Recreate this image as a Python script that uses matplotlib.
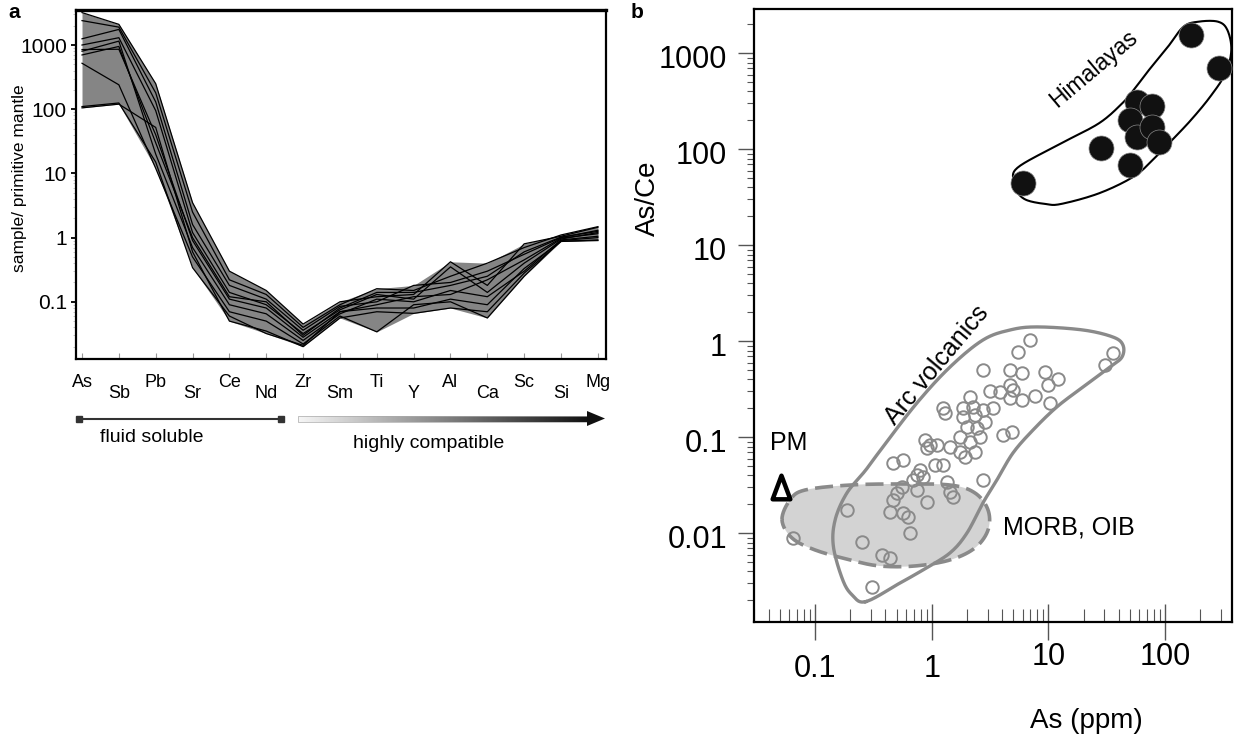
import numpy as np
import matplotlib
matplotlib.use("Agg")
import matplotlib.pyplot as plt
from matplotlib.colors import LinearSegmentedColormap
from matplotlib.path import Path
from matplotlib.patches import Rectangle, Polygon
from matplotlib.ticker import LogLocator, NullFormatter, FixedLocator

plt.rcParams["font.family"] = ["Liberation Sans", "DejaVu Sans"]

# ---- panel a: normalised spider diagram ----
ELEMENTS = ["As", "Sb", "Pb", "Sr", "Ce", "Nd", "Zr", "Sm",
            "Ti", "Y", "Al", "Ca", "Sc", "Si", "Mg"]
S01 = [3200, 2100, 250, 3.5, 0.30, 0.15, 0.045, 0.10, 0.12, 0.13, 0.42, 0.18, 0.80, 1.05, 1.45]
S02 = [2400, 1900, 180, 2.5, 0.22, 0.13, 0.040, 0.09, 0.16, 0.15, 0.25, 0.40, 0.70, 1.10, 1.48]
S03 = [1250, 1750, 130, 1.6, 0.18, 0.11, 0.036, 0.085, 0.10, 0.18, 0.20, 0.30, 0.55, 1.00, 1.30]
S04 = [1000, 1300, 95, 1.2, 0.14, 0.09, 0.032, 0.075, 0.13, 0.11, 0.35, 0.14, 0.40, 0.95, 1.20]
S05 = [850, 860, 40, 0.9, 0.11, 0.08, 0.028, 0.07, 0.09, 0.12, 0.13, 0.22, 0.45, 0.98, 1.15]
S06 = [800, 1150, 20, 0.7, 0.09, 0.065, 0.025, 0.065, 0.11, 0.10, 0.15, 0.12, 0.30, 0.92, 1.05]
S07 = [520, 240, 12, 0.5, 0.07, 0.05, 0.022, 0.06, 0.034, 0.09, 0.10, 0.056, 0.25, 0.90, 1.00]
S08 = [105, 120, 52, 0.6, 0.05, 0.035, 0.020, 0.056, 0.07, 0.066, 0.08, 0.07, 0.28, 0.87, 0.92]
S09 = [110, 125, 15, 0.34, 0.06, 0.032, 0.021, 0.07, 0.08, 0.08, 0.11, 0.09, 0.33, 0.88, 0.90]
S10 = [700, 950, 30, 1.0, 0.12, 0.10, 0.030, 0.08, 0.14, 0.14, 0.18, 0.25, 0.60, 1.02, 1.25]
SAMPLES = [S01, S02, S03, S04, S05, S06, S07, S08, S09, S10]
A_YTICKS = [0.1, 1, 10, 100, 1000]
A_YLABELS = ["0.1", "1", "10", "100", "1000"]

# ---- panel b: As/Ce vs As ----
HIMAL_AS = [6.0, 28, 50, 58, 78, 50, 58, 78, 88, 167, 288]
HIMAL_ASCE = [44, 102, 69, 313, 282, 202, 135, 172, 120, 1550, 698]

ARC_AS = [6.94, 5.51, 2.76, 4.68, 5.89, 9.33, 12.1, 9.96, 3.15, 3.84, 4.68, 4.99,
          4.68, 5.89, 7.66, 10.3, 2.12, 1.86, 2.26, 2.76, 3.37, 1.25, 1.29, 1.86,
          2.34, 2.85, 1.99, 2.42, 2.59, 2.12, 1.74, 4.10, 4.83, 0.873, 0.964, 0.902,
          1.10, 1.43, 1.74, 1.92, 2.34, 0.467, 0.569, 1.06, 1.25, 0.791, 0.741, 0.844,
          0.692, 1.34, 2.76, 0.551, 0.499, 0.467, 0.741, 1.43, 1.53, 0.902, 0.437,
          0.569, 0.628, 0.649, 0.25, 0.371, 0.437, 0.305, 36.0, 30.6, 0.186, 0.065]
ARC_ASCE = [1.03, 0.78, 0.502, 0.502, 0.464, 0.482, 0.402, 0.351, 0.306, 0.298, 0.351, 0.311,
            0.255, 0.245, 0.269, 0.226, 0.265, 0.20, 0.208, 0.192, 0.20, 0.20, 0.178, 0.164,
            0.171, 0.145, 0.129, 0.124, 0.101, 0.09, 0.101, 0.106, 0.114, 0.094, 0.083, 0.0768,
            0.083, 0.0798, 0.0708, 0.0628, 0.0708, 0.0536, 0.058, 0.0514, 0.0514, 0.0456, 0.0405, 0.0389,
            0.0359, 0.0345, 0.0359, 0.0306, 0.0261, 0.0222, 0.0282, 0.0271, 0.024, 0.0213, 0.0168,
            0.0162, 0.0149, 0.010, 0.00817, 0.00594, 0.0055, 0.00278, 0.75, 0.566, 0.0175, 0.0090]

HIMAL_FIELD_AS = [4.97, 5.57, 12.8, 27.2, 42.9, 53.8, 72.8, 106, 144, 194, 284, 342,
                  370, 330, 244, 167, 115, 78.3, 53.8, 27.2, 12.8, 9.46, 6.47, 5.37]
HIMAL_FIELD_ASCE = [47.9, 65.9, 115, 187, 301, 415, 670, 1172, 1892, 2133, 2133, 1750,
                    1081, 619, 353, 202, 125, 77.4, 51.9, 34.8, 26.9, 26.9, 29.6, 36.1]

ARC_FIELD_AS = [0.271, 0.532, 0.839, 1.43, 2.0, 2.74, 3.61, 4.96, 7.37, 11.8, 19.8, 33.7,
                42.7, 43.5, 35.7, 19.8, 7.98, 4.68, 2.74, 1.43, 0.745, 0.380, 0.271, 0.186,
                0.148, 0.143, 0.172, 0.207]
ARC_FIELD_ASCE = [0.00194, 0.00303, 0.00415, 0.00624, 0.01007, 0.0207, 0.0359, 0.0686, 0.119,
                  0.207, 0.334, 0.539, 0.685, 0.914, 1.107, 1.31, 1.41, 1.31, 1.03, 0.539,
                  0.228, 0.0793, 0.0456, 0.0261, 0.0138, 0.00725, 0.00326, 0.00228]

MORB_FIELD_AS = [0.0518, 0.0607, 0.0816, 0.199, 0.532, 1.43, 2.34, 3.03, 3.03, 2.34,
                 1.43, 0.714, 0.358, 0.199, 0.0994, 0.0631]
MORB_FIELD_ASCE = [0.0138, 0.0222, 0.0282, 0.0318, 0.0326, 0.0318, 0.0263, 0.0175, 0.0108,
                   0.00703, 0.00527, 0.00456, 0.00456, 0.00527, 0.0067, 0.00893]

PM_AS, PM_ASCE = 0.0508, 0.0303
B_XTICKS = [0.1, 1, 10, 100]
B_XLABELS = ["0.1", "1", "10", "100"]
B_YTICKS = [0.01, 0.1, 1, 10, 100, 1000]
B_YLABELS = ["0.01", "0.1", "1", "10", "100", "1000"]

W, H = 1234, 735
fig = plt.figure(figsize=(W / 100, H / 100), dpi=100)


def px_axes(left, top, right, bottom):
    return fig.add_axes([left / W, 1 - bottom / H, (right - left) / W, (bottom - top) / H])


def smooth_closed(xs, ys, n=16):
    # periodic Catmull-Rom through the outline vertices, in log space
    pts = np.column_stack([np.log10(xs), np.log10(ys)])
    m = len(pts)
    t = np.linspace(0, 1, n, endpoint=False)[:, None]
    segs = []
    for i in range(m):
        p0, p1, p2, p3 = pts[i - 1], pts[i], pts[(i + 1) % m], pts[(i + 2) % m]
        segs.append(0.5 * (2 * p1 + (-p0 + p2) * t + (2 * p0 - 5 * p1 + 4 * p2 - p3) * t ** 2
                           + (-p0 + 3 * p1 - 3 * p2 + p3) * t ** 3))
    out = np.vstack(segs + [segs[0][:1]])
    return 10 ** out[:, 0], 10 ** out[:, 1]


# ---------------- panel a ----------------
axa = px_axes(76, 9.5, 606, 359)
xi = np.arange(len(ELEMENTS))
arr = np.array(SAMPLES)
axa.fill_between(xi, arr.min(axis=0), arr.max(axis=0), color="#858585", lw=0, zorder=1)
for s in SAMPLES:
    axa.plot(xi, s, color="black", lw=0.9, zorder=2)
axa.set_yscale("log")
axa.set_xlim(-0.163, 14.22)
axa.set_ylim(0.01285, 3575)
axa.set_yticks(A_YTICKS, labels=A_YLABELS)
axa.yaxis.set_minor_locator(LogLocator(base=10, subs=np.arange(2, 10), numticks=20))
axa.yaxis.set_minor_formatter(NullFormatter())
axa.tick_params(axis="y", which="major", direction="out", length=3.5, width=1.3, labelsize=15, pad=3)
axa.tick_params(axis="y", which="minor", direction="out", length=2, width=0.6, color="#bbbbbb")
axa.set_xticks(xi[::2], labels=ELEMENTS[::2])
axa.set_xticks(xi[1::2], labels=ELEMENTS[1::2], minor=True)
axa.tick_params(axis="x", which="both", direction="in", length=4, width=0.8, color="#999999", labelsize=13)
axa.tick_params(axis="x", which="major", pad=10.5)
axa.tick_params(axis="x", which="minor", pad=19)
for sp in axa.spines.values():
    sp.set_linewidth(1.6)
axa.spines["top"].set_linewidth(2.4)

fig.text(20 / W, 1 - 178 / H, "sample/ primitive mantle", rotation=90, ha="center", va="center", fontsize=12.5)
fig.text(14 / W, 1 - 13 / H, "a", ha="center", va="center", fontsize=15, fontweight="bold")

# ---------------- panel b ----------------
axb = px_axes(754, 9, 1232, 622)
axb.set_xscale("log")
axb.set_yscale("log")

mx, my = smooth_closed(MORB_FIELD_AS, MORB_FIELD_ASCE)
axb.fill(mx, my, color="#d3d3d3", lw=0, zorder=1)
axb.plot(mx, my, color="#8a8a8a", lw=2.6, dashes=(5, 2), zorder=3)

fx, fy = smooth_closed(ARC_FIELD_AS, ARC_FIELD_ASCE)
axb.plot(fx, fy, color="#8a8a8a", lw=2.4, zorder=2)
axb.plot(ARC_AS, ARC_ASCE, "o", ms=9, mfc="none", mec="#8a8a8a", mew=1.4, zorder=4)

hx, hy = smooth_closed(HIMAL_FIELD_AS, HIMAL_FIELD_ASCE)
axb.plot(hx, hy, color="black", lw=1.5, zorder=2)
axb.plot(HIMAL_AS, HIMAL_ASCE, "o", ms=18, mfc="#111111", mec="#888888", mew=0.5, zorder=5)

tri = Path([(-0.75, -1), (0.75, -1), (0, 1), (-0.75, -1)],
           [Path.MOVETO, Path.LINETO, Path.LINETO, Path.CLOSEPOLY])
axb.plot([PM_AS], [PM_ASCE], marker=tri, ms=17, mfc="white", mec="black", mew=3.2, ls="none", zorder=6)

axb.set_xlim(0.0298, 375)
axb.set_ylim(0.00119, 2890)

axb.xaxis.set_major_locator(FixedLocator(B_XTICKS))
axb.xaxis.set_minor_locator(LogLocator(base=10, subs=np.arange(2, 10), numticks=20))
axb.yaxis.set_major_locator(FixedLocator(B_YTICKS))
axb.yaxis.set_minor_locator(LogLocator(base=10, subs=np.arange(2, 10), numticks=20))
axb.tick_params(axis="x", which="major", direction="inout", length=26, width=1.0, color="#555555",
                labelbottom=False)
axb.tick_params(axis="x", which="minor", direction="in", length=9.5, width=0.8, color="#555555",
                labelbottom=False)
axb.tick_params(axis="y", which="major", direction="out", length=11.5, width=1.0, color="#555555",
                labelleft=False)
axb.tick_params(axis="y", which="minor", direction="out", length=5, width=0.8, color="#555555",
                labelleft=False)
for sp in axb.spines.values():
    sp.set_linewidth(1.6)

for v, lab in zip(B_YTICKS, B_YLABELS):
    axb.annotate(lab, xy=(0, v), xycoords=("axes fraction", "data"), xytext=(-19.5, -5),
                 textcoords="offset points", ha="right", va="center", fontsize=22)
for v, lab in zip(B_XTICKS, B_XLABELS):
    drop = -34 if v < 5 else -25
    axb.annotate(lab, xy=(v, 0), xycoords=("data", "axes fraction"), xytext=(0, drop),
                 textcoords="offset points", ha="center", va="center", fontsize=22)

axb.text(24.3, 682, "Himalayas", rotation=40, rotation_mode="anchor", ha="center", va="center", fontsize=16.5)
axb.text(1.10, 0.566, "Arc volcanics", rotation=50, rotation_mode="anchor", ha="center", va="center",
         fontsize=18)
axb.text(4.07, 0.0116, "MORB, OIB", ha="left", va="center", fontsize=18)
axb.text(0.0407, 0.0873, "PM", ha="left", va="center", fontsize=18)

fig.text(1086 / W, 1 - 728 / H, "As (ppm)", ha="center", va="baseline", fontsize=20)
fig.text(648 / W, 1 - 198 / H, "As/Ce", rotation=90, ha="center", va="center", fontsize=20)
fig.text(637 / W, 1 - 13 / H, "b", ha="center", va="center", fontsize=15, fontweight="bold")

# ---------------- bracket and arrow under panel a ----------------
ann = fig.add_axes([0, 0, 1, 1])
ann.axis("off")
ann.plot([79, 281], [419, 419], color="#333333", lw=1.5)
ann.plot([79, 281], [419, 419], "s", ms=5, color="#333333")
ann.text(152, 437, "fluid soluble", ha="center", va="center", fontsize=14)

grad = np.linspace(0, 1, 256)[None, :]
cmap = LinearSegmentedColormap.from_list("fade", ["#f6f6f6", "#101010"])
ann.imshow(grad, extent=(298, 590, 421.5, 415.5), cmap=cmap, aspect="auto", interpolation="bilinear")
ann.add_patch(Rectangle((298, 415.5), 292, 6, fill=False, ec="#aaaaaa", lw=0.5))
ann.add_patch(Polygon([(587, 411), (605, 418.5), (587, 426)], closed=True, color="#101010", lw=0))
ann.text(429, 443, "highly compatible", ha="center", va="center", fontsize=14)
ann.set_xlim(0, W)
ann.set_ylim(H, 0)

fig.savefig("out.png", dpi=100)
